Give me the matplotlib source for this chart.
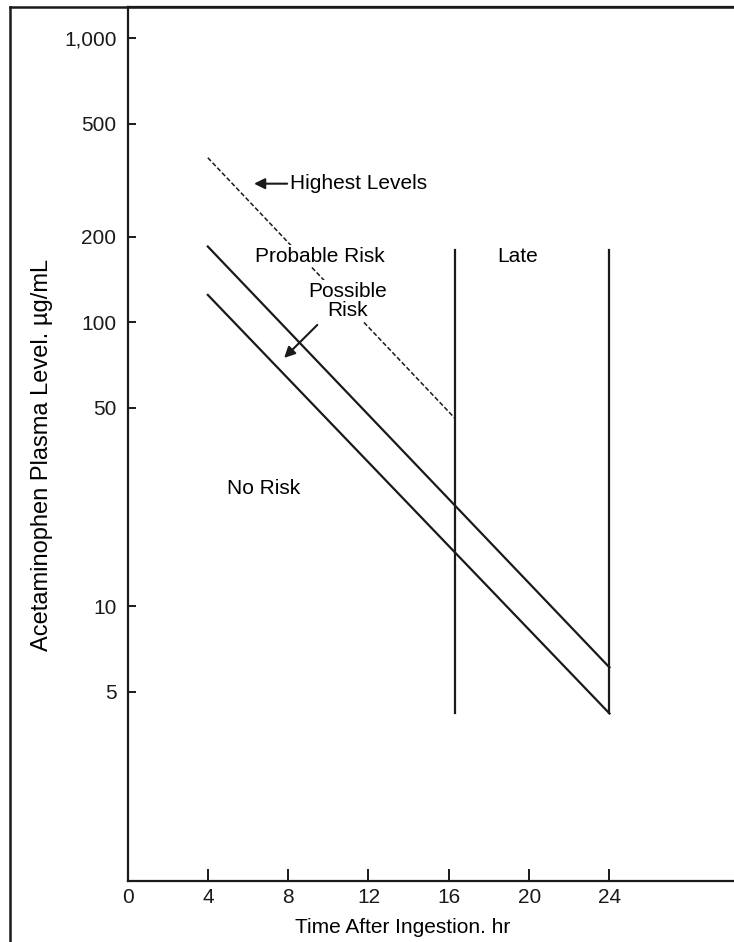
import matplotlib.pyplot as plt
from matplotlib.lines import Line2D
from matplotlib.ticker import FixedLocator, FixedFormatter, NullLocator

plt.rcParams["font.family"] = ["Liberation Sans", "DejaVu Sans"]
plt.rcParams["font.size"] = 15

# nomogram data
line_hours = [4, 24]
probable_line = [185, 6.1]
possible_line = [125, 4.2]
highest_hours = [4, 16.3]
highest_levels = [380, 46]
late_hours = [16.3, 24]
late_range = [180, 4.2]

y_ticks = [5, 10, 50, 100, 200, 500, 1000]
y_labels = ["5", "10", "50", "100", "200", "500", "1,000"]
x_ticks = [0, 4, 8, 12, 16, 20, 24]

W, H = 734, 942
fig = plt.figure(figsize=(W / 100, H / 100), dpi=100)
ax = fig.add_axes([127.5 / W, 1 - 881 / H, 1 - 127.5 / W, (881 - 7) / H])

ax.set_yscale("log")
ax.set_xlim(0, 30.2)
ax.set_ylim(1.08, 1290)

lw = 1.6
ax.plot(line_hours, probable_line, color="#1a1a1a", lw=lw)
ax.plot(line_hours, possible_line, color="#1a1a1a", lw=lw)
ax.plot(highest_hours, highest_levels, color="#1a1a1a", lw=1.1, ls=(0, (3, 1.5)))
for h in late_hours:
    ax.plot([h, h], late_range, color="#1a1a1a", lw=lw)

box = dict(facecolor="white", edgecolor="none", pad=1)
ax.text(8.1, 308, "Highest Levels", ha="left", va="center", bbox=box)
ax.annotate("", xy=(6.3, 308), xytext=(7.95, 308),
            arrowprops=dict(arrowstyle="-|>", color="#1a1a1a", lw=1.5,
                            mutation_scale=16, shrinkA=0, shrinkB=0))
ax.text(9.57, 171, "Probable Risk", ha="center", va="center", bbox=box)
ax.text(10.95, 119, "Possible\nRisk", ha="center", va="center",
        linespacing=1.05, multialignment="center", bbox=box)
ax.text(18.4, 171, "Late", ha="left", va="center")
ax.text(6.78, 26, "No Risk", ha="center", va="center")
ax.annotate("", xy=(7.8, 75), xytext=(9.45, 98),
            arrowprops=dict(arrowstyle="-|>", color="#1a1a1a", lw=1.5,
                            mutation_scale=16, shrinkA=0, shrinkB=0))

ax.yaxis.set_major_locator(FixedLocator(y_ticks))
ax.yaxis.set_major_formatter(FixedFormatter(y_labels))
ax.yaxis.set_minor_locator(NullLocator())
ax.set_xticks(x_ticks)
ax.tick_params(axis="y", direction="in", length=6, width=1.4, pad=8, colors="#1a1a1a")
ax.tick_params(axis="x", direction="in", length=9, width=1.4, pad=5, colors="#1a1a1a")

ax.spines["right"].set_visible(False)
for s in ["left", "bottom", "top"]:
    ax.spines[s].set_linewidth(1.6)
    ax.spines[s].set_color("#1a1a1a")

ax.set_xlabel("Time After Ingestion. hr")
ax.xaxis.set_label_coords(0.453, -0.042)
ax.set_ylabel("Acetaminophen Plasma Level. \u00b5g/mL", fontsize=17)
ax.yaxis.set_label_coords(-0.123, 0.487)

# frame around the figure (left and top edges visible)
fig.add_artist(Line2D([9.5 / W, 9.5 / W], [0, 1 - 7 / H], color="#1a1a1a", lw=1.8,
                      transform=fig.transFigure))
fig.add_artist(Line2D([9.5 / W, 1], [1 - 7 / H, 1 - 7 / H], color="#1a1a1a", lw=1.8,
                      transform=fig.transFigure))

fig.savefig("out.png", dpi=100)
